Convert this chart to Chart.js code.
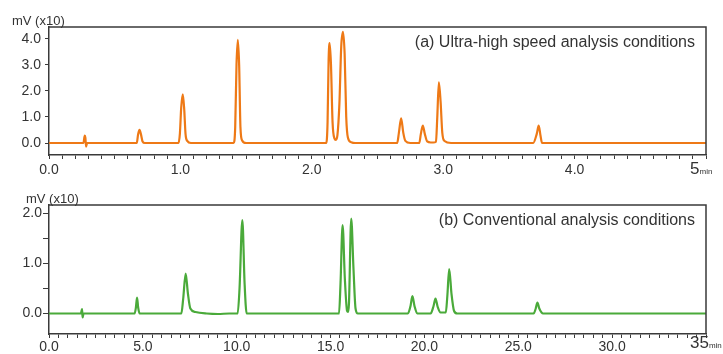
<!DOCTYPE html>
<html lang="en">
<head>
    <meta charset="UTF-8">
    <title>Chromatograms</title>
    <script src="https://cdn.jsdelivr.net/npm/chart.js"></script>
    <style>
        body {
            margin: 0;
            width: 723px;
            height: 354px;
            position: relative;
            background: #ffffff;
            font-family: "Liberation Sans", Arial, Helvetica, sans-serif;
            color: #333333;
            overflow: hidden;
        }
        canvas {
            position: absolute;
            left: 0;
        }
        #chartA { top: 0; }
        #chartB { top: 180px; }
        .txt {
            position: absolute;
            white-space: nowrap;
            line-height: 1;
        }
        .unit {
            font-size: 13px;
        }
        .title {
            font-size: 16px;
            right: 28px;
        }
        .end {
            font-size: 17px;
            left: 690px;
        }
        .end small {
            font-size: 8px;
        }
    </style>
</head>
<body>

    <canvas id="chartA" width="723" height="180"></canvas>
    <canvas id="chartB" width="723" height="174"></canvas>

    <div class="txt unit" style="left:12px; top:14px;">mV (x10)</div>
    <div class="txt unit" style="left:26px; top:192px;">mV (x10)</div>
    <div class="txt title" style="top:34px;">(a) Ultra-high speed analysis conditions</div>
    <div class="txt title" style="top:212px;">(b) Conventional analysis conditions</div>
    <div class="txt end" style="top:160px;">5<small>min</small></div>
    <div class="txt end" style="top:334px;">35<small>min</small></div>

    <script>
        // (a) ultra-high speed run, time in min, signal in mV (x10)
        const aTimes = [0.00, 0.262, 0.272, 0.277, 0.282, 0.290,
            0.668, 0.678, 0.689, 0.700, 0.712, 0.730,
            0.985, 0.996, 1.006, 1.018, 1.029, 1.039, 1.052, 1.080,
            1.405, 1.417, 1.427, 1.437, 1.447, 1.457, 1.470, 1.500,
            2.110, 2.120, 2.128, 2.136, 2.146, 2.158, 2.172, 2.183, 2.195, 2.210, 2.224, 2.237, 2.250, 2.262, 2.275, 2.300, 2.330,
            2.650, 2.663, 2.680, 2.696, 2.712, 2.750,
            2.818, 2.830, 2.845, 2.860, 2.878, 2.905, 2.925, 2.945, 2.955, 2.967, 2.980, 2.993, 3.010, 3.060,
            3.685, 3.712, 3.727, 3.740, 3.752, 5.00];
        const aSignal = [0, 0, 0.28, 0.2, -0.14, 0,
            0, 0.33, 0.50, 0.33, 0.06, 0,
            0, 0.35, 1.35, 1.87, 1.3, 0.35, 0.08, 0,
            0, 0.6, 3.0, 3.96, 3.0, 0.6, 0.1, 0,
            0, 0.8, 3.2, 3.83, 3.0, 0.8, 0.18, 0.12, 0.3, 1.5, 3.7, 4.26, 3.4, 1.0, 0.2, 0.03, 0,
            0, 0.4, 0.95, 0.4, 0.08, 0,
            0, 0.35, 0.67, 0.35, 0.06, 0.02, 0.02, 0.05, 1.0, 2.33, 1.6, 0.4, 0.08, 0,
            0, 0.35, 0.67, 0.3, 0, 0];

        // (b) conventional run
        const bTimes = [0, 1.70, 1.76, 1.79, 1.84,
            4.56, 4.63, 4.69, 4.75, 4.83,
            7.05, 7.15, 7.28, 7.40, 7.53, 7.80, 8.40, 9.00, 9.60,
            10.05, 10.15, 10.30, 10.42, 10.53,
            15.45, 15.53, 15.64, 15.76, 15.88, 15.93, 15.98, 16.10, 16.22, 16.33, 16.45,
            19.12, 19.26, 19.36, 19.47, 19.62,
            20.33, 20.48, 20.59, 20.70, 20.86,
            21.14, 21.22, 21.32, 21.44, 21.58, 21.75,
            25.82, 25.93, 26.02, 26.12, 26.32, 35];
        const bSignal = [0, 0, 0.09, -0.08, 0,
            0, 0.12, 0.32, 0.12, 0,
            0, 0.3, 0.8, 0.4, 0.1, 0.03, 0, -0.01, 0,
            0, 0.5, 1.87, 0.6, 0,
            0, 0.6, 1.77, 0.7, 0.05, 0.03, 0.2, 1.9, 0.9, 0.1, 0,
            0, 0.15, 0.35, 0.15, 0,
            0, 0.14, 0.30, 0.14, 0.02,
            0.02, 0.35, 0.89, 0.4, 0.05, 0,
            0, 0.1, 0.22, 0.1, 0, 0];

        const aYTicks = [0, 1, 2, 3, 4];
        const bYTicks = [0, 0.5, 1, 1.5, 2];
        const aXStep = 0.1;
        const bXStep = 0.5;

        const ORANGE = 'rgb(238, 121, 22)';
        const GREEN = 'rgb(74, 170, 58)';
        const INK = '#3a3a3a';

        function stepTicks(max, step) {
            const out = [];
            for (let i = 0; i * step <= max + 1e-9; i++) out.push({ value: +(i * step).toFixed(2) });
            return out;
        }

        // top + right border of the plot box
        const framePlugin = {
            id: 'frame',
            afterDraw(chart) {
                const a = chart.chartArea;
                const ctx = chart.ctx;
                ctx.save();
                ctx.strokeStyle = INK;
                ctx.lineWidth = 1.5;
                ctx.beginPath();
                ctx.moveTo(a.left, a.top);
                ctx.lineTo(a.right, a.top);
                ctx.lineTo(a.right, a.bottom);
                ctx.stroke();
                ctx.restore();
            }
        };

        function makeChart(id, times, signal, color, opts) {
            return new Chart(document.getElementById(id), {
                type: 'line',
                data: {
                    datasets: [{
                        data: times.map((t, i) => ({ x: t, y: signal[i] })),
                        borderColor: color,
                        borderWidth: 2.2,
                        pointRadius: 0,
                        cubicInterpolationMode: 'monotone',
                        fill: false
                    }]
                },
                options: {
                    responsive: false,
                    animation: false,
                    devicePixelRatio: 1,
                    layout: { padding: { left: 0, right: 17, top: opts.top, bottom: 0 } },
                    plugins: { legend: { display: false }, tooltip: { enabled: false } },
                    scales: {
                        x: {
                            type: 'linear',
                            min: 0,
                            max: opts.xMax,
                            afterBuildTicks: s => { s.ticks = stepTicks(opts.xMax, opts.xStep); },
                            afterFit: s => { s.height = opts.xHeight; },
                            grid: { drawOnChartArea: false, drawTicks: true, tickLength: 4, color: INK, lineWidth: 1 },
                            border: { display: true, color: INK, width: 1.5 },
                            ticks: {
                                autoSkip: false,
                                maxRotation: 0,
                                padding: opts.xPad,
                                color: '#333',
                                font: { family: '"Liberation Sans", Arial, sans-serif', size: 14 },
                                callback: v => {
                                    if (Math.abs(v - opts.xMax) < 1e-6) return '';
                                    const r = v / opts.xLabelEvery;
                                    return Math.abs(r - Math.round(r)) < 1e-6 ? v.toFixed(1) : '';
                                }
                            }
                        },
                        y: {
                            min: opts.yMin,
                            max: opts.yMax,
                            afterBuildTicks: s => { s.ticks = opts.yTicks.map(v => ({ value: v })); },
                            afterFit: s => { s.width = 49; },
                            grid: { drawOnChartArea: false, drawTicks: true, tickLength: opts.yTick, color: INK, lineWidth: 1 },
                            border: { display: true, color: INK, width: 1.5 },
                            ticks: {
                                padding: opts.yPad,
                                color: '#333',
                                font: { family: '"Liberation Sans", Arial, sans-serif', size: 14 },
                                callback: v => Number.isInteger(v) ? v.toFixed(1) : ''
                            }
                        }
                    }
                },
                plugins: [framePlugin]
            });
        }

        makeChart('chartA', aTimes, aSignal, ORANGE, {
            top: 27, xHeight: 25, xMax: 5, xStep: aXStep, xLabelEvery: 1, xPad: 3,
            yMin: -0.46, yMax: 4.45, yTicks: aYTicks, yTick: 4, yPad: 4
        });
        makeChart('chartB', bTimes, bSignal, GREEN, {
            top: 25, xHeight: 20, xMax: 35, xStep: bXStep, xLabelEvery: 5, xPad: 1,
            yMin: -0.41, yMax: 2.17, yTicks: bYTicks, yTick: 6, yPad: 1
        });
    </script>
</body>
</html>
